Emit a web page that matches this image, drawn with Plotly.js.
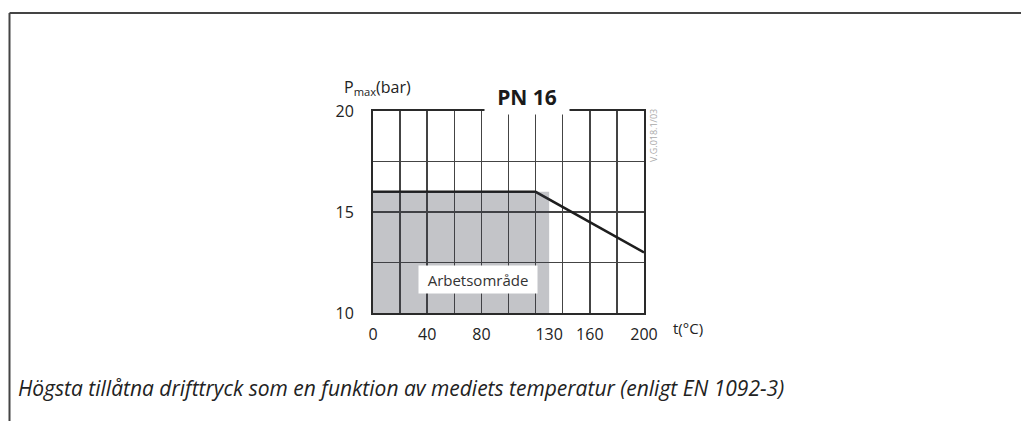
<!DOCTYPE html>
<html>
<head>
<meta charset="utf-8">
<script src="https://cdn.plot.ly/plotly-3.0.1.min.js"></script>
<style>html,body{margin:0;padding:0;background:#fff;}#chart{width:1021px;height:421px;}</style>
</head>
<body>
<div id="chart"></div>
<script>
// Pressure / temperature limit curve
const lineTemp = [0, 120, 200];
const linePressure = [16, 16, 13];
// Working area (Arbetsområde)
const areaTemp = [0, 130];
const areaPressure = [16, 16];
// Axes
const xRange = [0, 200];
const yRange = [10, 20];
const xGridStep = 20;
const xTickVals = [0, 40, 80, 130, 160, 200];
const xTickText = ['0', '40', '80', '130', '160', '200'];
const yLabelStep = 5;
const yGridStep = 2.5;
// Texts
const chartTitle = '<b>PN 16</b>';
const yTitle = 'P<sub>max</sub>(bar)';
const xTitle = 't(°C)';
const areaLabel = 'Arbetsområde';
const refCode = 'V.G.018.1/03';
const caption = 'Högsta tillåtna drifttryck som en funktion av mediets temperatur (enligt EN 1092-3)';

const FONT = 'Open Sans, Noto Sans, sans-serif';
const W = 1021, H = 421;
const L = 373, R = 377, T = 111, B = 108;
const pw = W - L - R, ph = H - T - B;
const px = x => (x - L) / pw;
const py = y => (H - B - y) / ph;

const traces = [
  {
    x: areaTemp, y: areaPressure, xaxis: 'x2', yaxis: 'y', type: 'scatter', mode: 'lines',
    fill: 'tozeroy', fillcolor: 'rgba(55,58,72,0.3)',
    line: {width: 0, color: 'rgba(0,0,0,0)'}, hoverinfo: 'skip', showlegend: false
  },
  {
    x: lineTemp, y: linePressure, type: 'scatter', mode: 'lines',
    line: {color: '#1e1e1e', width: 2.5}, showlegend: false
  }
];

const layout = {
  width: W, height: H,
  margin: {l: L, r: R, t: T, b: B, pad: 0},
  paper_bgcolor: '#fff', plot_bgcolor: '#fff',
  font: {family: FONT, color: '#222', size: 15},
  showlegend: false,
  xaxis: {
    range: xRange, dtick: xGridStep, tick0: 0, tickmode: 'linear',
    showgrid: true, gridcolor: '#444', gridwidth: 1.5,
    showticklabels: false, ticks: '', zeroline: false,
    showline: true, mirror: true, linecolor: '#2a2a2a', linewidth: 2,
    fixedrange: true
  },
  xaxis2: {
    range: xRange, overlaying: 'x', anchor: 'y', side: 'bottom',
    tickmode: 'array', tickvals: xTickVals, ticktext: xTickText,
    showgrid: false, zeroline: false, showline: false, ticks: '',
    ticklabelstandoff: 10,
    tickfont: {family: FONT, size: 16, color: '#222'}, fixedrange: true
  },
  yaxis: {
    range: yRange, tickmode: 'linear', tick0: 10, dtick: yLabelStep,
    showgrid: true, gridcolor: '#444', gridwidth: 1.5,
    minor: {tickmode: 'linear', tick0: 10, dtick: yGridStep, showgrid: true, gridcolor: '#444', gridwidth: 1.5, ticks: ''},
    zeroline: false, ticks: '', ticklabelstandoff: 14,
    showline: true, mirror: true, linecolor: '#2a2a2a', linewidth: 2,
    tickfont: {family: FONT, size: 16, color: '#222'}, fixedrange: true
  },
  shapes: [
    {type: 'line', xref: 'paper', yref: 'paper', x0: px(9.5), x1: px(1030), y0: py(13), y1: py(13),
     line: {color: '#444', width: 2}},
    {type: 'line', xref: 'paper', yref: 'paper', x0: px(9.5), x1: px(9.5), y0: py(13), y1: py(430),
     line: {color: '#444', width: 2}}
  ],
  annotations: [
    {text: chartTitle, xref: 'paper', yref: 'paper', x: px(527), y: py(97),
     xanchor: 'center', yanchor: 'middle', showarrow: false,
     width: 84, height: 34, bgcolor: '#fff', borderpad: 0,
     font: {family: FONT, size: 21, color: '#1a1a1a'}},
    {text: yTitle, xref: 'paper', yref: 'paper', x: px(342), y: py(88),
     xanchor: 'left', yanchor: 'middle', showarrow: false,
     font: {family: FONT, size: 16, color: '#222'}},
    {text: xTitle, xref: 'paper', yref: 'paper', x: px(671), y: py(328),
     xanchor: 'left', yanchor: 'middle', showarrow: false,
     font: {family: FONT, size: 15, color: '#222'}},
    {text: areaLabel, xref: 'paper', yref: 'paper', x: px(478), y: py(279.5),
     xanchor: 'center', yanchor: 'middle', showarrow: false,
     width: 118, height: 27, bgcolor: '#fff', borderpad: 0,
     font: {family: FONT, size: 15, color: '#333'}},
    {text: refCode, xref: 'paper', yref: 'paper', x: px(653), y: py(136),
     xanchor: 'center', yanchor: 'middle', showarrow: false, textangle: -90,
     font: {family: FONT, size: 9, color: '#aaa'}},
    {text: '<i>' + caption + '</i>', xref: 'paper', yref: 'paper', x: px(16), y: py(388),
     xanchor: 'left', yanchor: 'middle', showarrow: false,
     font: {family: FONT, size: 21, color: '#222'}}
  ]
};

Plotly.newPlot('chart', traces, layout, {staticPlot: true, displayModeBar: false});
</script>
</body>
</html>
